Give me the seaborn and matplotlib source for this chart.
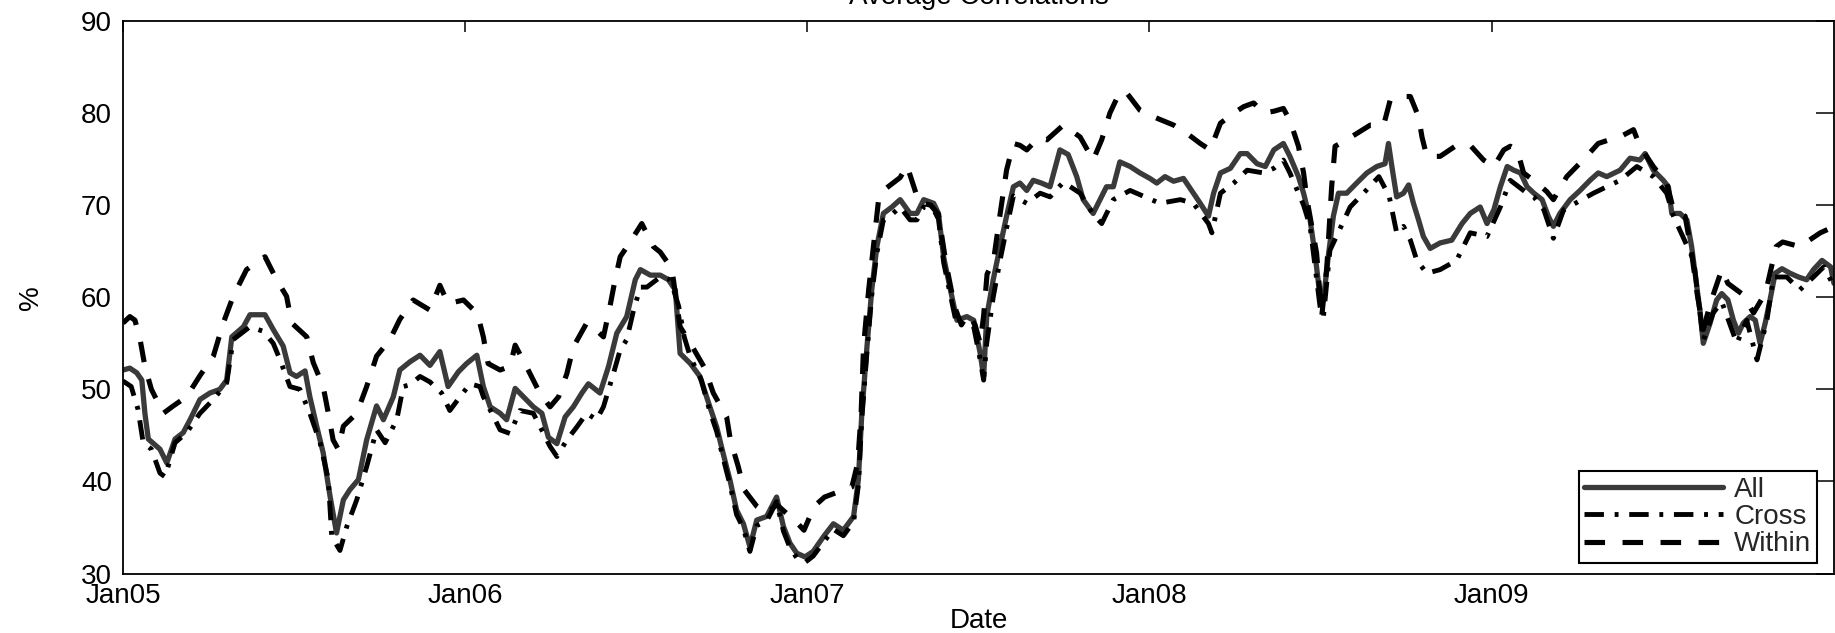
import numpy as np
import pandas as pd
import matplotlib
matplotlib.use("Agg")
import matplotlib.pyplot as plt
import matplotlib.dates as mdates
import seaborn as sns

# ---------------- data (x in years since 1 Jan 2005) ----------------
all_years = [0.000, 0.020, 0.040, 0.055, 0.064, 0.074, 0.108, 0.128, 0.152, 0.176, 0.196, 0.225, 0.254, 0.283,
             0.303, 0.318, 0.352, 0.371, 0.391, 0.415, 0.439, 0.468, 0.488, 0.507, 0.532, 0.546, 0.566, 0.585,
             0.605, 0.624, 0.644, 0.663, 0.688, 0.712, 0.741, 0.761, 0.790, 0.809, 0.839, 0.868, 0.897, 0.926,
             0.950, 0.980, 1.004, 1.034, 1.053, 1.073, 1.102, 1.121, 1.146, 1.170, 1.199, 1.224, 1.243, 1.268,
             1.292, 1.316, 1.341, 1.360, 1.394, 1.419, 1.443, 1.472, 1.497, 1.512, 1.541, 1.570, 1.594, 1.614,
             1.628, 1.658, 1.686, 1.715, 1.735, 1.754, 1.774, 1.793, 1.813, 1.832, 1.852, 1.881, 1.910, 1.930,
             1.949, 1.969, 1.993, 2.017, 2.047, 2.076, 2.105, 2.135, 2.149, 2.159, 2.174, 2.188, 2.203, 2.222,
             2.247, 2.271, 2.300, 2.320, 2.340, 2.369, 2.383, 2.398, 2.418, 2.437, 2.466, 2.486, 2.505, 2.515,
             2.524, 2.543, 2.563, 2.582, 2.602, 2.621, 2.641, 2.660, 2.684, 2.709, 2.738, 2.762, 2.787, 2.806,
             2.835, 2.855, 2.874, 2.894, 2.913, 2.943, 2.972, 3.001, 3.021, 3.045, 3.070, 3.099, 3.128, 3.148,
             3.172, 3.187, 3.207, 3.236, 3.265, 3.285, 3.314, 3.338, 3.363, 3.391, 3.410, 3.435, 3.450, 3.469,
             3.483, 3.498, 3.508, 3.522, 3.537, 3.552, 3.576, 3.605, 3.635, 3.664, 3.688, 3.698, 3.708, 3.722,
             3.742, 3.757, 3.771, 3.786, 3.800, 3.820, 3.849, 3.883, 3.913, 3.937, 3.966, 3.986, 4.006, 4.025,
             4.045, 4.064, 4.084, 4.103, 4.123, 4.147, 4.165, 4.180, 4.199, 4.229, 4.258, 4.287, 4.311, 4.336,
             4.375, 4.404, 4.433, 4.448, 4.472, 4.501, 4.516, 4.526, 4.550, 4.570, 4.584, 4.599, 4.609, 4.618,
             4.638, 4.657, 4.672, 4.690, 4.706, 4.721, 4.735, 4.755, 4.770, 4.784, 4.799, 4.813, 4.828, 4.848,
             4.872, 4.896, 4.920, 4.940, 4.965, 4.990, 5.000]
all_vals = [52.1, 52.3, 51.8, 51.0, 47.4, 44.6, 43.5, 42.0, 44.6, 45.3, 46.7, 48.9, 49.6, 50.0,
            51.0, 55.7, 56.8, 58.1, 58.1, 58.1, 56.5, 54.7, 51.8, 51.4, 52.0, 49.2, 46.0, 43.1,
            38.4, 34.4, 38.0, 39.1, 40.2, 44.5, 48.2, 46.7, 49.2, 52.1, 53.0, 53.7, 52.6, 54.1,
            50.3, 51.9, 52.8, 53.7, 50.3, 48.1, 47.4, 46.7, 50.1, 49.2, 48.1, 47.4, 44.8, 44.1,
            47.0, 48.1, 49.6, 50.6, 49.6, 52.5, 56.1, 57.9, 61.9, 63.0, 62.4, 62.4, 61.9, 60.8,
            53.9, 52.8, 51.4, 48.1, 45.9, 43.0, 40.1, 36.9, 35.4, 32.9, 35.8, 36.2, 38.3, 35.1,
            33.3, 32.2, 31.8, 32.4, 34.0, 35.4, 34.7, 36.2, 40.2, 47.4, 54.6, 60.8, 65.5, 69.1,
            69.8, 70.6, 69.1, 69.1, 70.6, 70.2, 69.1, 64.4, 60.8, 57.5, 57.9, 57.5, 53.9, 51.4,
            57.9, 61.9, 65.5, 68.8, 72.0, 72.4, 71.6, 72.7, 72.4, 72.0, 76.0, 75.5, 73.1, 70.6,
            69.1, 70.6, 72.0, 72.0, 74.7, 74.2, 73.5, 72.9, 72.4, 73.1, 72.6, 72.9, 71.3, 70.2,
            68.8, 71.3, 73.5, 74.0, 75.6, 75.6, 74.5, 74.2, 76.0, 76.7, 75.3, 73.1, 71.3, 68.4,
            64.8, 60.1, 59.7, 64.4, 68.8, 71.3, 71.3, 72.4, 73.5, 74.2, 74.5, 76.7, 74.2, 70.9,
            71.3, 72.2, 70.2, 68.4, 66.6, 65.3, 65.9, 66.2, 68.0, 69.1, 69.8, 68.0, 69.5, 72.0,
            74.2, 73.8, 73.5, 72.0, 71.3, 70.6, 68.8, 67.7, 69.1, 70.6, 71.6, 72.7, 73.5, 73.1,
            73.8, 75.1, 74.9, 75.6, 73.8, 72.7, 72.0, 69.1, 69.1, 68.4, 65.5, 61.2, 58.3, 55.0,
            57.2, 59.7, 60.4, 59.7, 57.5, 56.1, 57.2, 57.9, 57.5, 55.0, 57.2, 59.7, 62.6, 63.1,
            62.6, 62.2, 61.9, 63.0, 64.0, 63.3, 61.5]

cross_years = [0.000, 0.024, 0.044, 0.059, 0.083, 0.108, 0.123, 0.152, 0.186, 0.225, 0.264, 0.303, 0.322, 0.371,
               0.410, 0.439, 0.459, 0.488, 0.517, 0.546, 0.576, 0.600, 0.610, 0.634, 0.654, 0.683, 0.712, 0.741,
               0.766, 0.800, 0.819, 0.839, 0.868, 0.897, 0.931, 0.955, 0.985, 1.014, 1.043, 1.053, 1.078, 1.102,
               1.131, 1.160, 1.199, 1.229, 1.248, 1.268, 1.297, 1.326, 1.355, 1.384, 1.404, 1.433, 1.453, 1.472,
               1.492, 1.512, 1.531, 1.570, 1.600, 1.624, 1.640, 1.658, 1.690, 1.715, 1.735, 1.754, 1.774, 1.793,
               1.813, 1.832, 1.852, 1.881, 1.910, 1.930, 1.949, 1.969, 1.993, 2.017, 2.047, 2.076, 2.105, 2.135,
               2.149, 2.159, 2.174, 2.188, 2.203, 2.222, 2.247, 2.271, 2.300, 2.320, 2.340, 2.369, 2.383, 2.398,
               2.418, 2.437, 2.466, 2.486, 2.505, 2.515, 2.524, 2.543, 2.563, 2.582, 2.602, 2.641, 2.680, 2.709,
               2.748, 2.797, 2.835, 2.860, 2.894, 2.943, 3.030, 3.090, 3.128, 3.172, 3.182, 3.207, 3.246, 3.285,
               3.333, 3.363, 3.391, 3.410, 3.450, 3.469, 3.498, 3.508, 3.527, 3.586, 3.625, 3.670, 3.700, 3.722,
               3.742, 3.762, 3.781, 3.810, 3.849, 3.897, 3.937, 3.986, 4.025, 4.054, 4.103, 4.123, 4.152, 4.180,
               4.210, 4.297, 4.375, 4.424, 4.472, 4.511, 4.531, 4.590, 4.618, 4.647, 4.672, 4.716, 4.745, 4.775,
               4.804, 4.823, 4.862, 4.900, 4.940, 4.970, 5.000]
cross_vals = [50.9, 50.3, 47.8, 44.2, 43.5, 40.9, 40.5, 44.2, 45.3, 47.4, 48.9, 50.7, 55.4, 56.8,
              56.3, 55.0, 53.2, 50.3, 50.0, 47.4, 44.2, 40.2, 34.0, 32.5, 35.1, 38.0, 41.6, 45.6,
              44.2, 46.7, 50.3, 50.5, 51.4, 50.8, 49.6, 47.7, 49.2, 50.6, 50.3, 49.2, 47.4, 45.6,
              45.2, 47.7, 47.4, 45.2, 43.8, 42.7, 44.5, 45.9, 47.4, 46.7, 48.1, 51.7, 54.3, 55.4,
              58.6, 61.1, 61.1, 62.2, 61.9, 59.0, 55.7, 53.5, 51.0, 47.6, 45.4, 42.5, 39.6, 36.4,
              34.9, 32.4, 35.2, 35.7, 37.8, 34.6, 32.8, 31.7, 31.2, 31.9, 33.4, 34.8, 34.1, 35.6,
              39.6, 46.8, 54.0, 60.2, 64.8, 68.4, 69.0, 69.8, 68.4, 68.4, 69.8, 69.5, 68.5, 63.8,
              60.2, 56.9, 57.3, 56.8, 53.2, 51.0, 55.0, 60.0, 64.0, 67.5, 71.0, 70.2, 71.3, 70.9,
              72.5, 71.3, 69.0, 68.0, 70.6, 71.6, 70.2, 70.6, 70.2, 68.0, 67.0, 71.3, 72.4, 73.8,
              73.5, 74.0, 74.9, 73.5, 70.0, 67.7, 59.0, 57.9, 65.1, 69.8, 71.3, 73.1, 71.0, 67.0,
              67.7, 66.2, 64.0, 62.6, 63.0, 64.0, 67.0, 66.6, 69.8, 72.7, 71.3, 70.9, 69.5, 66.4,
              69.5, 71.3, 72.7, 74.2, 73.1, 71.3, 68.8, 64.0, 55.3, 58.3, 59.5, 55.0, 57.5, 53.2,
              57.5, 62.2, 62.2, 60.8, 62.2, 63.3, 61.2]

within_years = [0.000, 0.020, 0.035, 0.050, 0.064, 0.083, 0.118, 0.147, 0.186, 0.225, 0.264, 0.293, 0.322, 0.361,
                0.415, 0.449, 0.478, 0.493, 0.537, 0.556, 0.585, 0.600, 0.614, 0.629, 0.644, 0.683, 0.712, 0.741,
                0.780, 0.809, 0.848, 0.897, 0.926, 0.950, 0.995, 1.036, 1.053, 1.067, 1.102, 1.131, 1.146, 1.184,
                1.218, 1.248, 1.273, 1.297, 1.316, 1.355, 1.384, 1.404, 1.423, 1.438, 1.453, 1.482, 1.516, 1.550,
                1.570, 1.604, 1.614, 1.628, 1.658, 1.700, 1.725, 1.764, 1.775, 1.798, 1.815, 1.852, 1.881, 1.910,
                1.940, 1.970, 1.990, 2.020, 2.050, 2.100, 2.130, 2.147, 2.157, 2.164, 2.179, 2.193, 2.208, 2.222,
                2.271, 2.291, 2.326, 2.360, 2.383, 2.405, 2.430, 2.450, 2.470, 2.490, 2.505, 2.515, 2.525, 2.544,
                2.563, 2.582, 2.602, 2.621, 2.641, 2.675, 2.700, 2.748, 2.797, 2.835, 2.860, 2.884, 2.913, 2.933,
                2.972, 3.011, 3.070, 3.109, 3.148, 3.177, 3.207, 3.246, 3.275, 3.304, 3.333, 3.363, 3.391, 3.410,
                3.435, 3.450, 3.460, 3.474, 3.488, 3.503, 3.518, 3.532, 3.542, 3.576, 3.645, 3.684, 3.703, 3.742,
                3.762, 3.786, 3.796, 3.810, 3.849, 3.893, 3.937, 3.976, 4.006, 4.035, 4.054, 4.074, 4.093, 4.132,
                4.160, 4.180, 4.219, 4.277, 4.311, 4.384, 4.414, 4.433, 4.472, 4.511, 4.531, 4.565, 4.584, 4.600,
                4.618, 4.640, 4.672, 4.690, 4.730, 4.765, 4.800, 4.831, 4.850, 4.900, 4.960, 4.990, 5.000]
within_vals = [57.2, 57.9, 57.5, 55.4, 52.5, 50.0, 47.4, 48.2, 49.2, 51.5, 53.6, 57.2, 60.1, 63.0,
               64.4, 61.9, 60.1, 57.2, 55.7, 52.9, 50.3, 47.4, 44.5, 43.5, 46.0, 47.4, 50.3, 53.6,
               55.4, 57.6, 59.7, 58.6, 61.3, 59.3, 59.7, 58.2, 55.7, 52.8, 52.1, 52.5, 54.8, 52.1,
               49.6, 48.1, 49.2, 51.7, 54.6, 57.2, 56.4, 55.7, 59.0, 61.9, 64.4, 66.0, 68.0, 65.5,
               64.9, 63.1, 60.4, 56.8, 55.0, 52.3, 49.6, 47.0, 44.5, 41.6, 39.1, 37.3, 36.5, 37.5,
               36.5, 35.5, 34.7, 37.3, 38.3, 39.0, 39.4, 42.0, 47.4, 54.6, 60.8, 65.5, 70.6, 71.6,
               73.0, 74.3, 70.3, 70.0, 69.0, 63.7, 59.0, 57.0, 58.2, 57.0, 55.0, 58.0, 62.5, 64.0,
               69.0, 73.8, 76.7, 76.5, 76.0, 77.3, 77.1, 78.7, 77.4, 74.9, 77.1, 80.0, 82.3, 82.2,
               80.3, 79.6, 78.7, 77.8, 76.7, 76.0, 78.9, 80.0, 80.7, 81.1, 80.0, 80.2, 80.5, 79.2,
               76.4, 73.5, 70.6, 67.7, 64.8, 57.9, 63.3, 72.0, 76.4, 77.1, 78.7, 78.7, 81.4, 81.8,
               81.8, 79.6, 77.4, 75.3, 75.3, 76.4, 76.5, 74.9, 74.2, 76.0, 76.4, 76.0, 73.5, 72.4,
               71.5, 70.6, 73.1, 75.3, 76.7, 77.6, 78.2, 76.4, 74.2, 72.4, 69.5, 68.8, 64.8, 60.4,
               56.5, 59.5, 63.0, 61.5, 60.4, 58.3, 60.5, 65.5, 66.0, 65.5, 67.0, 67.5, 67.3]

series_names = ["All", "Cross", "Within"]
year_ticks = [2005, 2006, 2007, 2008, 2009]
y_ticks = [30, 40, 50, 60, 70, 80, 90]
title_text = "Average Correlations"
x_label = "Date"
y_label = "%"

# ---------------- style ----------------
sns.set_style("white")
plt.rcParams["font.family"] = ["Liberation Sans", "DejaVu Sans"]
FS = 20

start = pd.Timestamp("2005-01-01")


def to_dates(years):
    return start + pd.to_timedelta(np.asarray(years) * 365.25, unit="D")


frames = {
    "All": pd.DataFrame({"date": to_dates(all_years), "val": all_vals}),
    "Cross": pd.DataFrame({"date": to_dates(cross_years), "val": cross_vals}),
    "Within": pd.DataFrame({"date": to_dates(within_years), "val": within_vals}),
}
styles = {
    "All": dict(color="#3a3a3a", linestyle="-", linewidth=3.8),
    "Cross": dict(color="black", linestyle=(0, (4.0, 2.2, 0.8, 2.2)), linewidth=3.5),
    "Within": dict(color="black", linestyle=(0, (4.0, 3.4)), linewidth=3.7),
}

fig = plt.figure(figsize=(18.35, 6.33), dpi=100)
ax = fig.add_axes([123 / 1835, 1 - 573.5 / 633, (1834 - 123) / 1835, (573.5 - 21) / 633])

for name in series_names:
    df = frames[name]
    sns.lineplot(data=df, x="date", y="val", ax=ax, label=name, estimator=None, sort=False,
                 **styles[name])

ax.set_ylim(30, 90)
ax.set_yticks(y_ticks)
ax.set_xlim(frames["All"]["date"].min(), frames["All"]["date"].max())
ax.set_xticks([pd.Timestamp(f"{y}-01-01") for y in year_ticks])
ax.xaxis.set_major_formatter(mdates.DateFormatter("%b%y"))

for s in ax.spines.values():
    s.set_color("black")
    s.set_linewidth(1.3)
    s.set_visible(True)

ax.tick_params(axis="both", which="major", direction="in", top=True, right=True,
               labelsize=FS, colors="black", width=1.1)
ax.tick_params(axis="y", length=13, pad=8)
ax.tick_params(axis="x", length=8, pad=7)

ax.set_title(title_text, fontsize=FS, pad=12.5, color="black")
ax.set_xlabel(x_label, fontsize=FS, color="black")
ax.set_ylabel(y_label, fontsize=FS, color="black")
ax.xaxis.set_label_coords(0.5, (573.5 - 608) / 552.5)
ax.yaxis.set_label_coords((44 - 123) / 1711, 0.5)

leg = ax.legend(loc="lower right", bbox_to_anchor=(0.990, 0.019), borderaxespad=0,
                fontsize=FS, frameon=True, fancybox=False, shadow=False, framealpha=1,
                edgecolor="black", handlelength=5.0, handletextpad=0.4, borderpad=0.2,
                labelspacing=0.05)
leg.get_frame().set_linewidth(1.5)

fig.savefig("out.png", dpi=100)
